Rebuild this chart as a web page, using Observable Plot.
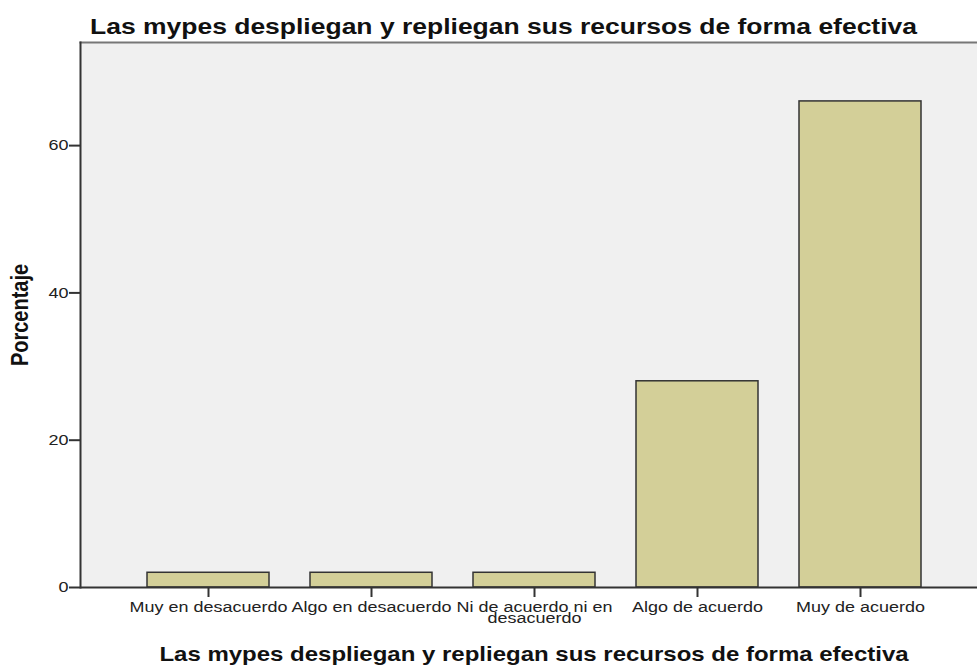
<!DOCTYPE html>
<html><head><meta charset="utf-8">
<script src="https://cdn.jsdelivr.net/npm/d3@7"></script>
<script src="https://cdn.jsdelivr.net/npm/@observablehq/plot@0.6"></script>
<style>
body{margin:0;background:#fff;}
#wrap{position:relative;width:977px;height:666px;font-family:"Liberation Sans",Arial,sans-serif;}
#title{position:absolute;left:90px;top:17px;font-weight:bold;font-size:21.5px;line-height:1;white-space:nowrap;transform-origin:0 0;color:#111;}
#wrap svg{position:absolute;left:0;top:0;}
</style></head>
<body><div id="wrap"><div id="title"></div></div>
<script>
const titleText = "Las mypes despliegan y repliegan sus recursos de forma efectiva";
const xLabel = "Las mypes despliegan y repliegan sus recursos de forma efectiva";
const yLabel = "Porcentaje";
const categories = ["Muy en desacuerdo","Algo en desacuerdo","Ni de acuerdo ni en\ndesacuerdo","Algo de acuerdo","Muy de acuerdo"];
const percentages = [2, 2, 2, 28, 66];
const yTicks = [0, 20, 40, 60];

const data = categories.map((c, i) => ({categoria: c, porcentaje: percentages[i]}));

const chart = Plot.plot({
  width: 977, height: 666,
  marginTop: 42, marginBottom: 79, marginLeft: 80, marginRight: 0,
  style: {fontFamily: "Liberation Sans, Arial, sans-serif", background: "transparent", color: "#222"},
  x: {domain: categories, range: [80, 988], paddingInner: 0.25, paddingOuter: 0.4},
  y: {domain: [0, 74]},
  marks: [
    Plot.frame({fill: "#f0f0f0", stroke: null}),
    Plot.barY(data, {x: "categoria", y: "porcentaje", fill: "#d3cf98", stroke: "#333", strokeWidth: 1.5}),
    Plot.frame({anchor: "top", stroke: "#777", strokeWidth: 2}),
    Plot.frame({anchor: "left", stroke: "#333", strokeWidth: 2}),
    Plot.ruleY([0], {stroke: "#333", strokeWidth: 2}),
    Plot.axisY({ticks: yTicks, tickSize: 11, tickPadding: 1, fontSize: 15, strokeWidth: 2, stroke: "#333", label: null}),
    Plot.axisX({tickSize: 10, tickPadding: 6, fontSize: 14.5, lineHeight: 0.8, strokeWidth: 2, stroke: "#333", label: null}),
    Plot.text([yLabel], {frameAnchor: "left", textAnchor: "middle", lineAnchor: "middle", dx: -60, rotate: -90, fontWeight: "bold", fontSize: 20, fill: "#111", text: d => d}),
    Plot.text([xLabel], {frameAnchor: "bottom", textAnchor: "middle", lineAnchor: "middle", dx: 5, dy: 67, fontWeight: "bold", fontSize: 20, fill: "#111", text: d => d})
  ]
});

const wrap = document.getElementById("wrap");
wrap.appendChild(chart);
const title = document.getElementById("title");
title.textContent = titleText;
const tw = title.getBoundingClientRect().width;
title.style.transform = `scaleX(${827 / tw})`;

// horizontal stretch of the reference rendering
chart.querySelectorAll('[aria-label="x-axis tick label"] text').forEach(t => {
  const tr = t.getAttribute("transform") || "";
  t.setAttribute("transform", tr + " scale(1.24,1)");
});
chart.querySelectorAll('[aria-label="y-axis tick label"] text').forEach(t => {
  const tr = t.getAttribute("transform") || "";
  t.setAttribute("transform", tr + " scale(1.2,1)");
});
chart.querySelectorAll('[aria-label="text"] text').forEach(t => {
  const tr = t.getAttribute("transform") || "";
  if (t.textContent === yLabel) t.setAttribute("transform", tr + " scale(1,1.2)");
  else t.setAttribute("transform", tr + " scale(1.2,1)");
});
</script>
</body></html>
